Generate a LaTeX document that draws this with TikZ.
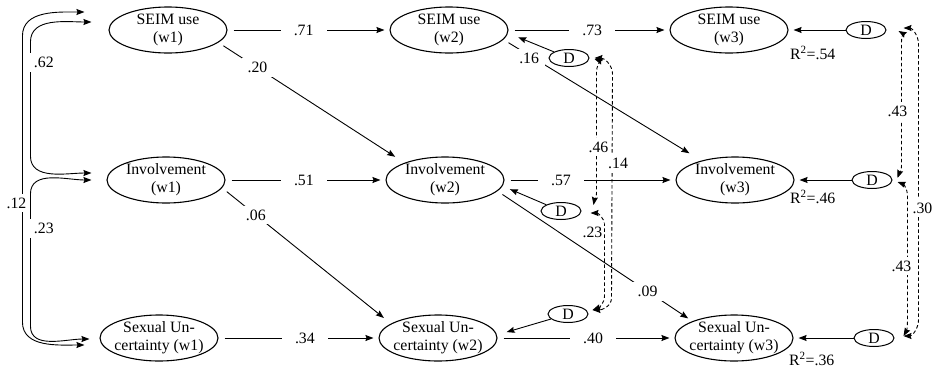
\documentclass[tikz,border=0pt]{standalone}
\usepackage{fontspec}
\setmainfont{Liberation Serif}
\usetikzlibrary{arrows.meta,shapes.geometric,calc}

\begin{document}
\begin{tikzpicture}[x=1pt,y=-1pt,
        font=\fontsize{15.8}{18.3}\selectfont,
        >={Stealth[length=8pt,width=6pt,inset=1pt]},
        var/.style={ellipse,draw,line width=1.1pt,minimum width=118pt,minimum height=46pt,inner xsep=-4pt,inner ysep=-2pt,align=center},
        dist/.style={ellipse,draw,line width=1pt,minimum width=40pt,minimum height=17pt,inner sep=0pt},
        reg/.style={->,line width=0.9pt,shorten <=6pt,shorten >=5pt},
        covs/.style={<->,line width=0.9pt},
        cov/.style={<->,line width=0.9pt,dash pattern=on 3.5pt off 2.5pt},
        lbl/.style={fill=white,inner xsep=3pt,inner ysep=4pt},
        hlbl/.style={lbl,inner xsep=13pt},
        dlbl/.style={lbl,inner xsep=6pt}]
        \useasboundingbox (0,0) rectangle (933,367);

        \node [var] (seim1) at (168,30) {SEIM use\\(w1)};
        \node [var] (inv1) at (166,180) {Involvement\\(w1)};
        \node [var] (unc1) at (159,338) {Sexual Un-\\certainty (w1)};
        \node [var] (seim2) at (449,30) {SEIM use\\(w2)};
        \node [var] (inv2) at (445,180) {Involvement\\(w2)};
        \node [var] (unc2) at (438,338) {Sexual Un-\\certainty (w2)};
        \node [var] (seim3) at (729,30) {SEIM use\\(w3)};
        \node [var] (inv3) at (735,180) {Involvement\\(w3)};
        \node [var] (unc3) at (734,338) {Sexual Un-\\certainty (w3)};

        \node [dist] (d1) at (569,58) {D};
        \node [dist] (d2) at (561,211) {D};
        \node [dist] (d3) at (568,314) {D};
        \node [dist] (d4) at (866,30) {D};
        \node [dist] (d5) at (872,180) {D};
        \node [dist] (d6) at (874,338) {D};

        \node [anchor=west] (r1) at ($(seim3.east)+(-2,23)$) {R\textsuperscript{2}=.54};
        \node [anchor=west] (r2) at ($(inv3.east)+(-8,17)$) {R\textsuperscript{2}=.46};
        \node [anchor=west] (r3) at ($(unc3.east)+(-8,21)$) {R\textsuperscript{2}=.36};

        \draw [reg] (seim1) -- node[hlbl,pos=.47] (b1) {.71} (seim2);
        \draw [reg] (inv1) -- node[hlbl,pos=.49] (b2) {.51} (inv2);
        \draw [reg] (unc1) -- node[hlbl,pos=.54] (b3) {.34} (unc2);
        \draw [reg] (seim2) -- node[hlbl,pos=.52] (b4) {.73} (seim3);
        \draw [reg] (inv2) -- node[hlbl,pos=.33] (b5) {.57} (inv3);
        \draw [reg] (unc2) -- node[hlbl,pos=.54] (b6) {.40} (unc3);
        \draw [reg,shorten >=11pt] (seim1.-14) -- node[dlbl,pos=.21] (b7) {.20} (inv2.157);
        \draw [reg,shorten >=9pt] (inv1.-8) -- node[dlbl,pos=.2] (b8) {.06} (unc2.163);
        \draw [reg,shorten >=14pt] (seim2.-10) -- node[dlbl,pos=.13,yshift=-3pt] (b9) {.16} (inv3.150);
        \draw [reg] (inv2.-12) -- node[dlbl,pos=.77] (b10) {.09} (unc3.158);

        \draw [reg,shorten <=0pt,shorten >=11pt] (d1) -- (seim2.-3);
        \draw [reg,shorten <=0pt,shorten >=8pt] (d2) -- (inv2.-6);
        \draw [reg,shorten <=0pt,shorten >=10pt] (d3) -- (unc2.3);
        \draw [reg,shorten <=0pt] (d4) -- (seim3);
        \draw [reg,shorten <=0pt] (d5) -- (inv3);
        \draw [reg,shorten <=0pt] (d6) -- (unc3);

        \draw [covs] ($(seim1.west)+(-17,-8)$) to[out=180,in=90] ($(seim1.west)+(-78,12)$)
            -- node[lbl,pos=.18,anchor=west,inner xsep=5pt,xshift=-2pt] (c1) {.62} ($(inv1.west)+(-76,-24)$)
            to[out=-90,in=180] ($(inv1.west)+(-15,-7)$);
        \draw [covs] ($(seim1.west)+(-24,-18)$) to[out=180,in=90] ($(seim1.west)+(-86,6)$)
            -- node[lbl,pos=.584,xshift=-6pt] (c2) {.12} ($(unc1.west)+(-77,-16)$)
            to[out=-90,in=180] ($(unc1.west)+(-15,7)$);
        \draw [covs] ($(inv1.west)+(-15,0)$) to[out=180,in=90] ($(inv1.west)+(-76,14)$)
            -- node[lbl,pos=.26,anchor=west,inner xsep=5pt,xshift=-2pt] (c3) {.23} ($(unc1.west)+(-69,-12)$)
            to[out=-90,in=180] ($(unc1.west)+(-10,1)$);

        \draw [cov] ($(d1.east)+(5,1)$) to[out=-20,in=90] ($(d1.east)+(7,14)$)
            -- node[lbl,pos=.62,xshift=2pt] (c4) {.46} ($(d2.east)+(15,-18)$)
            to[out=-90,in=80] ($(d2.east)+(12,-6)$);
        \draw [cov] ($(d1.east)+(5,0)$) to[out=0,in=90] ($(d1.east)+(23,16)$)
            -- node[lbl,pos=.4,xshift=6pt] (c5) {.14} ($(d3.east)+(23,-16)$)
            to[out=-90,in=0] ($(d3.east)+(4,-4)$);
        \draw [cov] ($(d2.east)+(9,2)$) to[out=0,in=90] ($(d2.east)+(23,14)$)
            -- node[lbl,pos=.1,xshift=-12pt,inner xsep=1.5pt] (c6) {.23} ($(d3.east)+(16,-18)$)
            to[out=-90,in=20] ($(d3.east)+(4,-4)$);

        \draw [cov] ($(d4.east)+(12,1)$) to[out=-30,in=90] ($(d4.east)+(15,12)$)
            -- node[lbl,pos=.56,xshift=-4pt] (c7) {.43} ($(d5.east)+(9,-14)$)
            to[out=-90,in=70] ($(d5.east)+(5,-2)$);
        \draw [cov] ($(d4.east)+(17,-2)$) to[out=0,in=90] ($(d4.east)+(32,14)$)
            -- node[lbl,pos=.594,xshift=4pt,inner xsep=1.5pt] (c8) {.30} ($(d6.east)+(24,-18)$)
            to[out=-90,in=0] ($(d6.east)+(9,-2)$);
        \draw [cov] ($(d5.east)+(5,2)$) to[out=-20,in=90] ($(d5.east)+(15,16)$)
            -- node[lbl,pos=.565,xshift=-6pt] (c9) {.43} ($(d6.east)+(13,-18)$)
            to[out=-90,in=60] ($(d6.east)+(9,-2)$);
\end{tikzpicture}
\end{document}
